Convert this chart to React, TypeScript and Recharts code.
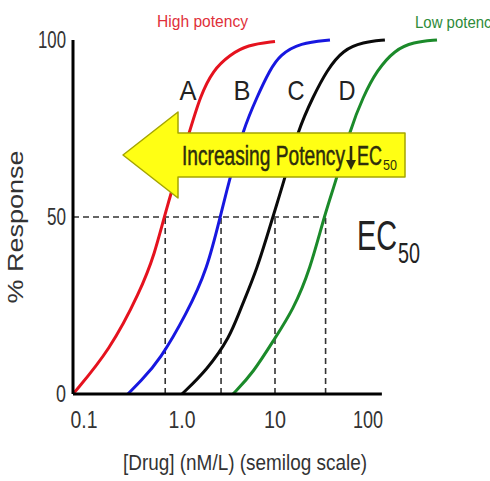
import React from 'react';
import { ComposedChart, Line, XAxis, YAxis, ReferenceLine } from 'recharts';

// Dose–response curves: x = [Drug] (nM/L), y = % response
const curveA = [
  { x: 0.0673, y: 0 }, { x: 0.168, y: 12.4 }, { x: 0.353, y: 28.8 }, { x: 0.513, y: 39.8 },
  { x: 0.656, y: 51.1 }, { x: 1.22, y: 74.6 }, { x: 1.56, y: 83.9 }, { x: 2.15, y: 91.5 },
  { x: 3.28, y: 95.8 }, { x: 5.0, y: 98.6 }, { x: 10, y: 99.6 },
];
const curveB = [
  { x: 0.262, y: 0 }, { x: 0.353, y: 3.4 }, { x: 0.58, y: 9.6 }, { x: 1.13, y: 22.9 },
  { x: 1.86, y: 35.0 }, { x: 2.63, y: 51.1 }, { x: 3.28, y: 61.0 }, { x: 4.53, y: 74.6 },
  { x: 6.4, y: 83.9 }, { x: 8.8, y: 91.5 }, { x: 11.3, y: 95.8 }, { x: 18.6, y: 99.2 },
  { x: 39, y: 100 },
];
const curveC = [
  { x: 1.0, y: 0 }, { x: 1.86, y: 6.8 }, { x: 3.28, y: 16.1 }, { x: 4.2, y: 23.7 },
  { x: 6.4, y: 35.0 }, { x: 9.75, y: 51.1 }, { x: 12.8, y: 61.0 }, { x: 17.7, y: 74.6 },
  { x: 25.6, y: 83.9 }, { x: 36.2, y: 91.5 }, { x: 53.8, y: 97.2 }, { x: 88.3, y: 99.4 },
  { x: 152, y: 100 },
];
const curveD = [
  { x: 3.54, y: 0 }, { x: 5.8, y: 5.9 }, { x: 10, y: 15.8 }, { x: 15.6, y: 23.7 },
  { x: 23.8, y: 35.0 }, { x: 34.5, y: 51.1 }, { x: 46.4, y: 61.0 }, { x: 64, y: 74.6 },
  { x: 88.3, y: 83.9 }, { x: 125, y: 91.5 }, { x: 195, y: 97.2 }, { x: 305, y: 99.4 },
  { x: 552, y: 100 },
];
const ec50Values = [0.66, 2.63, 10, 35];
const xTicks = [0.1, 1, 10, 100];
const xTickLabels = ['0.1', '1.0', '10', '100'];
const yTicks = [0, 50, 100];
const yTickLabels = ['0', '50', '100'];
const curveLetters = ['A', 'B', 'C', 'D'];

const X_MIN = 0.0673;
const X_MAX = 673;
const X_AXIS_END = 141;

const FONT = '"Liberation Sans", Arial, Helvetica, sans-serif';
const X_TICK_W: Record<string, number> = { '0.1': 27, '1.0': 27, '10': 22, '100': 30 };
const X_TICK_DX: Record<string, number> = { '0.1': -5, '1.0': 0, '10': 0, '100': 0 };
const Y_TICK_W: Record<string, number> = { '0': 10, '50': 19, '100': 28 };

const XTick = (props: any) => {
  const { x, y, payload } = props;
  const i = xTicks.indexOf(payload.value);
  const label = xTickLabels[i] ?? String(payload.value);
  return (
    <text x={x + (X_TICK_DX[label] || 0)} y={y + 26} textAnchor="middle" fontSize={23} fontFamily={FONT} fill="#333"
      textLength={X_TICK_W[label]} lengthAdjust="spacingAndGlyphs">{label}</text>
  );
};

const YTick = (props: any) => {
  const { x, y, payload } = props;
  const i = yTicks.indexOf(payload.value);
  const label = yTickLabels[i] ?? String(payload.value);
  return (
    <text x={x + 1} y={y + 8} textAnchor="end" fontSize={24} fontFamily={FONT} fill="#333"
      textLength={Y_TICK_W[label]} lengthAdjust="spacingAndGlyphs">{label}</text>
  );
};

const letterX = [188, 242, 296, 347];

export default function App() {
  const dash = { stroke: '#333', strokeWidth: 1.6, strokeDasharray: '6 4' };
  const ink = '#2e2e0c';
  return (
    <div style={{ position: 'absolute', left: 0, top: 0, width: 490, height: 481, background: '#fff' }}>
      <ComposedChart width={490} height={481} margin={{ top: 40, right: 45, bottom: 57, left: 0 }}>
        <XAxis type="number" dataKey="x" scale="log" domain={[X_MIN, X_MAX]} allowDataOverflow
          ticks={xTicks} axisLine={false} tickLine={false} height={30} tick={<XTick />} />
        <YAxis type="number" dataKey="y" domain={[0, 100]} ticks={yTicks} width={73}
          axisLine={{ stroke: '#000', strokeWidth: 3 }} tickLine={false} tick={<YTick />} />
        <ReferenceLine segment={[{ x: X_MIN, y: 50 }, { x: ec50Values[3], y: 50 }]} {...dash} />
        {ec50Values.map((v) => (
          <ReferenceLine key={v} segment={[{ x: v, y: 0 }, { x: v, y: 50 }]} {...dash} />
        ))}
        <Line data={curveA} dataKey="y" type="basis" dot={false} stroke="#e5121e" strokeWidth={3} isAnimationActive={false} />
        <Line data={curveB} dataKey="y" type="basis" dot={false} stroke="#1717e0" strokeWidth={3} isAnimationActive={false} />
        <Line data={curveC} dataKey="y" type="basis" dot={false} stroke="#0a0a0a" strokeWidth={3} isAnimationActive={false} />
        <Line data={curveD} dataKey="y" type="basis" dot={false} stroke="#1b8a2a" strokeWidth={3} isAnimationActive={false} />
        <ReferenceLine segment={[{ x: X_MIN, y: 0 }, { x: X_AXIS_END, y: 0 }]} stroke="#000" strokeWidth={3} />
      </ComposedChart>
      <svg width={490} height={481} style={{ position: 'absolute', left: 0, top: 0, pointerEvents: 'none' }}>
        <text x={157} y={27} fontSize={17} fontFamily={FONT} fill="#e0303a" textLength={91} lengthAdjust="spacingAndGlyphs">High potency</text>
        <text x={415} y={28} fontSize={17} fontFamily={FONT} fill="#2e8b3a" textLength={84} lengthAdjust="spacingAndGlyphs">Low potency</text>
        {curveLetters.map((l, i) => (
          <text key={l} x={letterX[i]} y={100} textAnchor="middle" fontSize={28} fontFamily={FONT} fill="#222"
            textLength={17} lengthAdjust="spacingAndGlyphs">{l}</text>
        ))}
        <polygon points="123,155 178,112 178,133 405,133 405,177 178,177 178,198"
          fill="#ffff14" stroke="#a5a500" strokeWidth={1.5} strokeLinejoin="round" />
        <text x={182} y={165} fontSize={27} fontFamily={FONT} fill={ink} stroke={ink} strokeWidth={0.5}
          textLength={163} lengthAdjust="spacingAndGlyphs">Increasing Potency</text>
        <path d="M351,146 L351,162" stroke={ink} strokeWidth={2.6} />
        <polygon points="346,160 356,160 351,170" fill={ink} />
        <text x={357} y={165} fontSize={27} fontFamily={FONT} fill={ink} stroke={ink} strokeWidth={0.5}
          textLength={25} lengthAdjust="spacingAndGlyphs">EC</text>
        <text x={383} y={170} fontSize={15} fontFamily={FONT} fill={ink} textLength={14} lengthAdjust="spacingAndGlyphs">50</text>
        <text x={357} y={250} fontSize={42} fontFamily={FONT} fill="#222" textLength={40} lengthAdjust="spacingAndGlyphs">EC</text>
        <text x={398} y={263} fontSize={29} fontFamily={FONT} fill="#222" textLength={22} lengthAdjust="spacingAndGlyphs">50</text>
        <text x={245} y={470} textAnchor="middle" fontSize={22} fontFamily={FONT} fill="#333" textLength={244} lengthAdjust="spacingAndGlyphs">[Drug] (nM/L) (semilog scale)</text>
        <text transform="translate(23,227) rotate(-90) scale(1,0.85)" textAnchor="middle" fontSize={25} fontFamily={FONT} fill="#333"
          textLength={153} lengthAdjust="spacingAndGlyphs">% Response</text>
      </svg>
    </div>
  );
}
